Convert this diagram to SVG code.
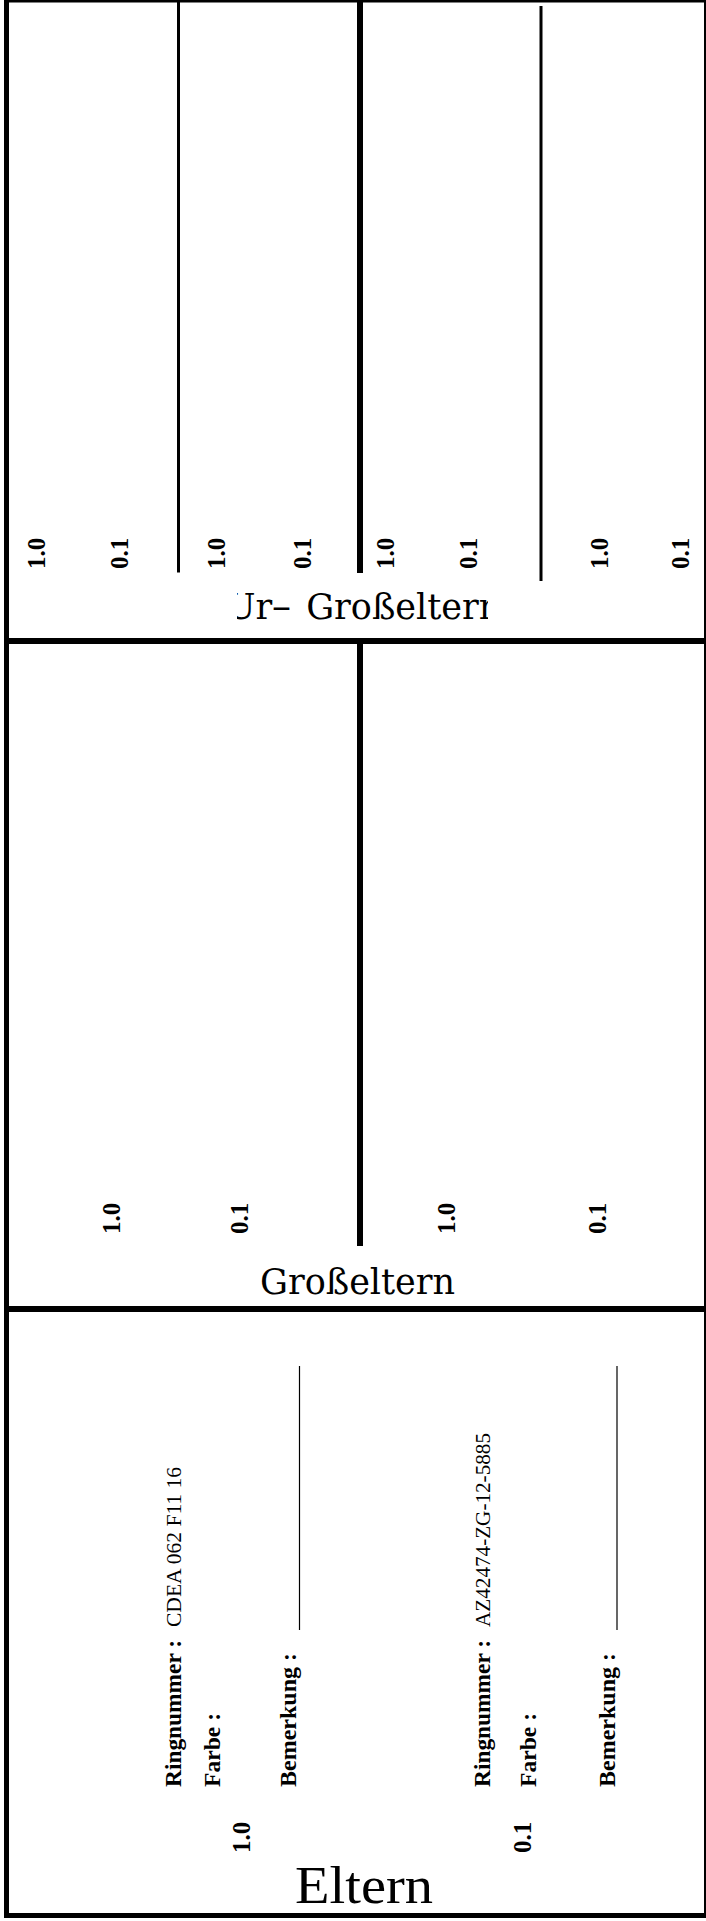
<svg xmlns="http://www.w3.org/2000/svg" width="706" height="1921" viewBox="0 0 706 1921">
<style>
.lbl{font-family:"Liberation Serif","Times New Roman",serif;font-weight:bold;font-size:25px;fill:#000}
.fld{font-family:"Liberation Serif","Times New Roman",serif;font-weight:bold;font-size:24px;fill:#000}
.val{font-family:"Liberation Serif","Times New Roman",serif;font-size:21.5px;fill:#000}
.ttl{font-family:"DejaVu Serif",serif;font-size:35px;fill:#000}
.thin{stroke:#000;stroke-width:3}
.thick{stroke:#000;stroke-width:6}
.rule{stroke:#000;stroke-width:1.2}
</style>
<defs>
<clipPath id="urclip"><rect x="237" y="578" width="251" height="58"/></clipPath>
</defs>
<rect width="706" height="1921" fill="#fff"/>
<g id="frame">
<rect x="6.5" y="0" width="700" height="1915.5" fill="none" stroke="#000" stroke-width="5"/>
</g>
<g id="connectors">
<line x1="4" y1="641" x2="706" y2="641" class="thick"/>
<line x1="4" y1="1309" x2="706" y2="1309" class="thick"/>
<line x1="178.5" y1="0" x2="178.5" y2="572.5" class="thin"/>
<line x1="360" y1="0" x2="360" y2="573" class="thick"/>
<line x1="541" y1="6" x2="541" y2="581" class="thin"/>
<line x1="360" y1="641" x2="360" y2="1246" class="thick"/>
<line x1="299.5" y1="1366" x2="299.5" y2="1630" class="rule"/>
<line x1="617" y1="1366" x2="617" y2="1630" class="rule"/>
</g>
<g id="urgrosseltern">
<text class="lbl" transform="translate(45,569) rotate(-90)">1.0</text>
<text class="lbl" transform="translate(128,569) rotate(-90)">0.1</text>
<text class="lbl" transform="translate(225,569) rotate(-90)">1.0</text>
<text class="lbl" transform="translate(311,569) rotate(-90)">0.1</text>
<text class="lbl" transform="translate(394,569) rotate(-90)">1.0</text>
<text class="lbl" transform="translate(477,569) rotate(-90)">0.1</text>
<text class="lbl" transform="translate(608,569) rotate(-90)">1.0</text>
<text class="lbl" transform="translate(689,569) rotate(-90)">0.1</text>
<text class="ttl" clip-path="url(#urclip)"><tspan x="226" y="619">Ur</tspan><tspan x="272" y="619" font-size="38">–</tspan><tspan x="295" y="619"> Großeltern</tspan></text>
</g>
<g id="grosseltern">
<text class="lbl" transform="translate(120,1234) rotate(-90)">1.0</text>
<text class="lbl" transform="translate(248,1234) rotate(-90)">0.1</text>
<text class="lbl" transform="translate(455,1234) rotate(-90)">1.0</text>
<text class="lbl" transform="translate(606,1234) rotate(-90)">0.1</text>
<text class="ttl" x="260" y="1294">Großeltern</text>
</g>
<g id="eltern">
<g id="vater">
<text class="fld" transform="translate(181,1787) rotate(-90)" textLength="147" lengthAdjust="spacingAndGlyphs">Ringnummer :</text>
<text class="val" transform="translate(181,1627) rotate(-90)" textLength="160" lengthAdjust="spacingAndGlyphs">CDEA 062 F11 16</text>
<text class="fld" transform="translate(220,1787) rotate(-90)" textLength="74" lengthAdjust="spacingAndGlyphs">Farbe :</text>
<text class="fld" transform="translate(296,1787) rotate(-90)" textLength="134" lengthAdjust="spacingAndGlyphs">Bemerkung :</text>
<text class="lbl" transform="translate(250,1853) rotate(-90)">1.0</text>
</g>
<g id="mutter">
<text class="fld" transform="translate(490,1787) rotate(-90)" textLength="147" lengthAdjust="spacingAndGlyphs">Ringnummer :</text>
<text class="val" transform="translate(490,1627) rotate(-90)" textLength="194" lengthAdjust="spacingAndGlyphs">AZ42474-ZG-12-5885</text>
<text class="fld" transform="translate(536,1787) rotate(-90)" textLength="74" lengthAdjust="spacingAndGlyphs">Farbe :</text>
<text class="fld" transform="translate(615,1787) rotate(-90)" textLength="134" lengthAdjust="spacingAndGlyphs">Bemerkung :</text>
<text class="lbl" transform="translate(531,1853) rotate(-90)">0.1</text>
</g>
<text x="295" y="1902.5" font-family="'Liberation Serif','Times New Roman',serif" font-size="53" textLength="138" lengthAdjust="spacingAndGlyphs">Eltern</text>
</g>
</svg>
